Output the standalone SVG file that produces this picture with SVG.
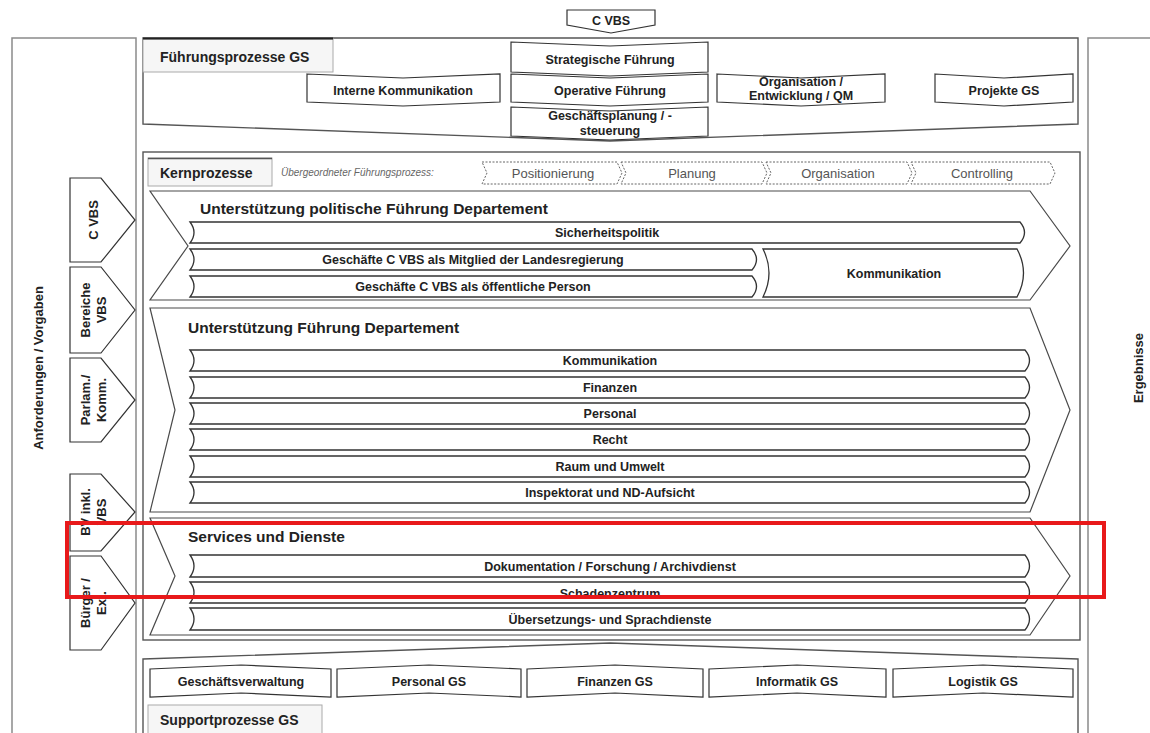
<svg xmlns="http://www.w3.org/2000/svg" width="1150" height="733" viewBox="0 0 1150 733">
<defs>
<style>
.col{fill:#fff;stroke:#8a8a8a;stroke-width:1.5}
.sec{fill:#fff;stroke:#555;stroke-width:1.4}
.tab{fill:#f6f6f6;stroke:#aaa;stroke-width:1}
.box{fill:#fff;stroke:#333;stroke-width:1.2}
.chev{fill:#fff;stroke:#4a4a4a;stroke-width:1.2}
.bar{fill:#fff;stroke:#333;stroke-width:1.3}
.dash{fill:#fff;stroke:#666;stroke-width:1;stroke-dasharray:2 1.5}
text{font-family:"Liberation Sans",Arial,sans-serif;fill:#222}
.t{font-size:12.5px;font-weight:bold;text-anchor:middle}
.h{font-size:14px;font-weight:bold}
.ht{font-size:15.5px;font-weight:bold}
.st{font-size:13px;fill:#555;text-anchor:middle}
.it{font-size:10px;font-style:italic;fill:#666}
.vt{font-size:13px;font-weight:bold;text-anchor:middle}
</style>
</defs>

<!-- side columns -->
<g id="col-left">
<rect class="col" x="12" y="38" width="124" height="720"/>
<text class="vt" font-size="14" transform="translate(43,368) rotate(-90)">Anforderungen / Vorgaben</text>
</g>
<g id="col-right">
<rect class="col" x="1088" y="38" width="80" height="720"/>
<text class="vt" font-size="14" transform="translate(1143,368) rotate(-90)">Ergebnisse</text>
</g>

<!-- Führungsprozesse -->
<g id="fuehrung">
<path class="sec" d="M143,38 H1078 V124 L610,141 L143,124 Z"/>
<rect class="tab" x="143" y="39" width="190" height="33"/>
<line x1="143" y1="38.5" x2="333" y2="38.5" stroke="#222" stroke-width="2"/>
<text class="h" x="160" y="62">Führungsprozesse GS</text>
</g>
<g id="cvbs-top">
<path class="box" d="M567,10 H655 V25 L611,33 L567,25 Z"/>
<text class="t" x="611" y="25">C VBS</text>
</g>
<g id="interne">
<path class="box" d="M307,74 L403,78 L500,74 V102 L403,106 L307,102 Z"/>
<text class="t" x="403" y="95">Interne Kommunikation</text>
</g>
<g id="strategisch">
<path class="box" d="M511,42 L610,46 L708,42 V72 L610,76 L511,72 Z"/>
<text class="t" x="610" y="64">Strategische Führung</text>
</g>
<g id="operativ">
<path class="box" d="M511,74 L610,78 L708,74 V102 L610,106 L511,102 Z"/>
<text class="t" x="610" y="95">Operative Führung</text>
</g>
<g id="geschaeftsplanung">
<path class="box" d="M511,107 L610,111 L708,107 V136 L610,140 L511,136 Z"/>
<text class="t" x="610" y="120">Geschäftsplanung / -</text>
<text class="t" x="610" y="135">steuerung</text>
</g>
<g id="organisation">
<path class="box" d="M717,74 L801,78 L885,74 V102 L801,106 L717,102 Z"/>
<text class="t" x="801" y="86">Organisation /</text>
<text class="t" x="801" y="100">Entwicklung / QM</text>
</g>
<g id="projekte">
<path class="box" d="M935,74 L1004,78 L1073,74 V102 L1004,106 L935,102 Z"/>
<text class="t" x="1004" y="95">Projekte GS</text>
</g>

<!-- Kernprozesse -->
<g id="kern">
<rect class="sec" x="143" y="152" width="937" height="488"/>
<rect class="tab" x="148" y="158" width="124" height="28"/>
<line x1="148" y1="158.5" x2="272" y2="158.5" stroke="#555" stroke-width="1.5"/>
<text class="h" x="160" y="178">Kernprozesse</text>
<text class="it" x="281" y="176">Übergeordneter Führungsprozess:</text>
</g>
<g id="positionierung">
<path class="dash" d="M482,162 H617 L622,173 L617,184 H482 L487,173 Z"/>
<text class="st" x="553" y="178">Positionierung</text>
</g>
<g id="planung">
<path class="dash" d="M621,162 H762 L767,173 L762,184 H621 L626,173 Z"/>
<text class="st" x="692" y="178">Planung</text>
</g>
<g id="organisation-k">
<path class="dash" d="M766,162 H907 L912,173 L907,184 H766 L771,173 Z"/>
<text class="st" x="838" y="178">Organisation</text>
</g>
<g id="controlling">
<path class="dash" d="M911,162 H1050 L1055,173 L1050,184 H911 L916,173 Z"/>
<text class="st" x="982" y="178">Controlling</text>
</g>

<g id="upfd">
<path class="chev" d="M150,191 H1030 L1070,246 L1030,300 H150 L188,246 Z"/>
<text class="ht" x="200" y="214">Unterstützung politische Führung Departement</text>
</g>
<g id="sicherheitspolitik">
<path class="bar" d="M190,222 H1020 Q1029,232.5 1020,243 H190 Q198,232.5 190,222 Z"/>
<text class="t" x="607" y="237">Sicherheitspolitik</text>
</g>
<g id="landesregierung">
<path class="bar" d="M190,249 H752 Q761,259.5 752,270 H190 Q198,259.5 190,249 Z"/>
<text class="t" x="473" y="264">Geschäfte C VBS als Mitglied der Landesregierung</text>
</g>
<g id="oeffentlich">
<path class="bar" d="M190,276 H752 Q761,286.5 752,297 H190 Q198,286.5 190,276 Z"/>
<text class="t" x="473" y="291">Geschäfte C VBS als öffentliche Person</text>
</g>
<g id="kommunikation1">
<path class="bar" d="M763,249 H1017 Q1030,273 1017,297 H763 Q775,273 763,249 Z"/>
<text class="t" x="894" y="278">Kommunikation</text>
</g>

<g id="ufd">
<path class="chev" d="M150,308 H1030 L1070,410 L1030,512 H150 L175,410 Z"/>
<text class="ht" x="188" y="333">Unterstützung Führung Departement</text>
</g>
<g id="kommunikation2">
<path class="bar" d="M190,350 H1025 Q1034,360.5 1025,371 H190 Q198,360.5 190,350 Z"/>
<text class="t" x="610" y="365">Kommunikation</text>
</g>
<g id="finanzen">
<path class="bar" d="M190,377 H1025 Q1034,387.5 1025,398 H190 Q198,387.5 190,377 Z"/>
<text class="t" x="610" y="392">Finanzen</text>
</g>
<g id="personal">
<path class="bar" d="M190,403 H1025 Q1034,413.5 1025,424 H190 Q198,413.5 190,403 Z"/>
<text class="t" x="610" y="418">Personal</text>
</g>
<g id="recht">
<path class="bar" d="M190,429 H1025 Q1034,439.5 1025,450 H190 Q198,439.5 190,429 Z"/>
<text class="t" x="610" y="444">Recht</text>
</g>
<g id="raum">
<path class="bar" d="M190,456 H1025 Q1034,466.5 1025,477 H190 Q198,466.5 190,456 Z"/>
<text class="t" x="610" y="471">Raum und Umwelt</text>
</g>
<g id="inspektorat">
<path class="bar" d="M190,482 H1025 Q1034,492.5 1025,503 H190 Q198,492.5 190,482 Z"/>
<text class="t" x="610" y="497">Inspektorat und ND-Aufsicht</text>
</g>

<g id="services">
<path class="chev" d="M150,518 H1030 L1070,576 L1030,635 H150 L175,576 Z"/>
<text class="ht" x="188" y="542">Services und Dienste</text>
</g>
<g id="dokumentation">
<path class="bar" d="M190,555 H1025 Q1034,566 1025,577 H190 Q198,566 190,555 Z"/>
<text class="t" x="610" y="571">Dokumentation / Forschung / Archivdienst</text>
</g>
<g id="schadenzentrum">
<path class="bar" d="M190,582 H1025 Q1034,592.5 1025,603 H190 Q198,592.5 190,582 Z"/>
<text class="t" x="610" y="598">Schadenzentrum</text>
</g>
<g id="uebersetzung">
<path class="bar" d="M190,608 H1025 Q1034,619 1025,630 H190 Q198,619 190,608 Z"/>
<text class="t" x="610" y="624">Übersetzungs- und Sprachdienste</text>
</g>

<!-- Supportprozesse -->
<g id="support">
<path class="sec" d="M143,659 L610,643 L1078,659 V760 H143 Z"/>
<rect class="tab" x="148" y="705" width="174" height="40"/>
<text class="h" x="160" y="725">Supportprozesse GS</text>
</g>
<g id="geschaeftsverwaltung">
<path class="box" d="M150,669 L241,665 L331,669 V697 L241,693 L150,697 Z"/>
<text class="t" x="241" y="686">Geschäftsverwaltung</text>
</g>
<g id="personal-gs">
<path class="box" d="M337,669 L429,665 L521,669 V697 L429,693 L337,697 Z"/>
<text class="t" x="429" y="686">Personal GS</text>
</g>
<g id="finanzen-gs">
<path class="box" d="M527,669 L615,665 L703,669 V697 L615,693 L527,697 Z"/>
<text class="t" x="615" y="686">Finanzen GS</text>
</g>
<g id="informatik-gs">
<path class="box" d="M709,669 L797,665 L886,669 V697 L797,693 L709,697 Z"/>
<text class="t" x="797" y="686">Informatik GS</text>
</g>
<g id="logistik-gs">
<path class="box" d="M893,669 L983,665 L1073,669 V697 L983,693 L893,697 Z"/>
<text class="t" x="983" y="686">Logistik GS</text>
</g>

<!-- left tabs -->
<g id="tab-cvbs">
<path class="box" d="M70,178 H101 L135,220 L101,262 H70 Z"/>
<text class="vt" transform="translate(98,220) rotate(-90)">C VBS</text>
</g>
<g id="tab-bereiche">
<path class="box" d="M70,267 H101 L135,310 L101,353 H70 Z"/>
<text class="vt" transform="translate(90,310) rotate(-90)">Bereiche</text>
<text class="vt" transform="translate(106,310) rotate(-90)">VBS</text>
</g>
<g id="tab-parlam">
<path class="box" d="M70,358 H101 L135,400 L101,442 H70 Z"/>
<text class="vt" transform="translate(90,400) rotate(-90)">Parlam./</text>
<text class="vt" transform="translate(106,400) rotate(-90)">Komm.</text>
</g>
<g id="tab-bv">
<path class="box" d="M70,474 H101 L135,512 L101,551 H70 Z"/>
<text class="vt" transform="translate(90,512) rotate(-90)">BV inkl.</text>
<text class="vt" transform="translate(106,512) rotate(-90)">VBS</text>
</g>
<g id="tab-buerger">
<path class="box" d="M70,556 H101 L135,603 L101,650 H70 Z"/>
<text class="vt" transform="translate(90,603) rotate(-90)">Bürger /</text>
<text class="vt" transform="translate(106,603) rotate(-90)">Ext.</text>
</g>

<!-- highlight -->
<g id="highlight">
<rect x="67" y="523" width="1037" height="74" fill="none" stroke="#e8191a" stroke-width="4"/>
</g>
</svg>
